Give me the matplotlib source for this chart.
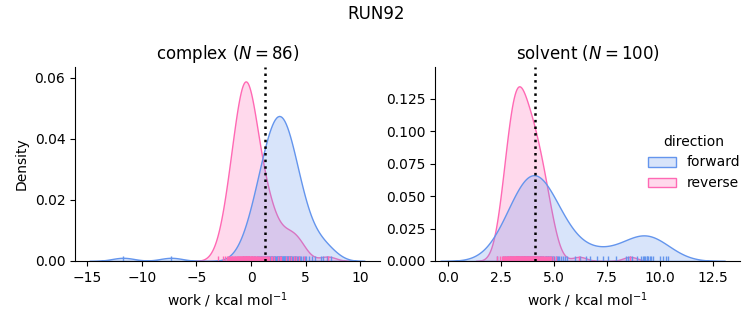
import matplotlib
matplotlib.use("Agg")
import matplotlib.pyplot as plt
import pandas as pd
import seaborn as sns

complex_forward = [
    -11.7, -7.3,
    -0.7, -0.5, -0.15, 0.1, 0.25, 0.38, 0.5, 0.62, 0.71, 0.79, 0.87, 0.95, 1.03, 1.1,
    1.18, 1.24, 1.3, 1.37, 1.43, 1.5, 1.56, 1.62, 1.67, 1.72, 1.78, 1.83, 1.89, 1.95,
    2.0, 2.06, 2.12, 2.18, 2.23, 2.28, 2.33, 2.38, 2.43, 2.48, 2.53, 2.58, 2.62,
    2.66, 2.7, 2.72, 2.74, 2.78, 2.83, 2.88, 2.93, 2.98, 3.03, 3.08, 3.13,
    3.18, 3.24, 3.3, 3.35, 3.41, 3.47, 3.52, 3.57, 3.62,
    3.69, 3.76, 3.83, 3.9, 3.97, 4.04, 4.11, 4.2, 4.3, 4.4, 4.5, 4.6,
    4.75, 4.9, 5.05, 5.3, 5.55, 5.8, 6.35, 6.6, 6.9, 7.3,
]
complex_reverse = [
    -3.0, -2.6, -2.35, -2.2, -2.1, -2.0,
    -1.92, -1.85, -1.77, -1.7, -1.63, -1.56, -1.49,
    -1.43, -1.38, -1.33, -1.28, -1.23, -1.18, -1.13, -1.08, -1.04, -1.0,
    -0.92, -0.88, -0.84, -0.8, -0.76, -0.72, -0.7, -0.68, -0.64, -0.6, -0.56, -0.52, -0.48,
    -0.44, -0.41, -0.38, -0.35, -0.31, -0.3, -0.27, -0.23, -0.19, -0.15, -0.1, -0.05, -0.01, 0.03,
    0.07, 0.12, 0.17, 0.22, 0.27, 0.32, 0.38, 0.44, 0.5,
    0.57, 0.65, 0.73, 0.81, 0.89, 0.97, 1.06, 1.16, 1.26, 1.35, 1.45,
    1.55, 1.68, 1.8, 1.93, 2.1, 2.45, 2.6, 2.78,
    3.2, 3.45, 3.65, 3.9, 4.15, 4.4, 4.8, 7.0,
]
solvent_forward = [
    2.3, 2.58, 2.69, 2.77, 2.84, 2.91, 2.98, 3.03, 3.08,
    3.19, 3.23, 3.28, 3.32, 3.36, 3.41, 3.43, 3.47, 3.5, 3.53, 3.57, 3.59,
    3.63, 3.65, 3.68, 3.71, 3.73, 3.76, 3.79, 3.81,
    3.85, 3.87, 3.89, 3.92, 3.94, 3.96, 3.99, 4.01, 4.03,
    4.07, 4.1, 4.13, 4.16, 4.19, 4.22, 4.25, 4.28,
    4.32, 4.35, 4.38, 4.41, 4.44, 4.47, 4.5,
    4.57, 4.6, 4.64, 4.67, 4.71, 4.74, 4.78,
    4.82, 4.86, 4.9, 4.94, 4.98, 5.08, 5.14, 5.2, 5.26,
    5.35, 5.43, 5.5, 5.62,
    6.0, 6.25, 6.5, 6.7, 7.04, 7.3, 7.55, 7.95,
    8.4, 8.5, 8.6, 8.7, 8.9, 9.1, 9.2, 9.25, 9.3, 9.38, 9.4, 9.45, 9.52, 9.6, 9.7,
    10.0, 10.15, 10.3, 10.4,
]
solvent_reverse = [
    2.32, 2.45, 2.52, 2.58, 2.62, 2.65, 2.69, 2.72, 2.75, 2.78,
    2.81, 2.83, 2.86, 2.88, 2.9, 2.92, 2.94, 2.96, 2.98,
    3.01, 3.03, 3.05, 3.07, 3.09, 3.11, 3.13, 3.15, 3.17, 3.18, 3.19,
    3.21, 3.22, 3.24, 3.25, 3.27, 3.29, 3.31, 3.32, 3.34, 3.36, 3.37, 3.39,
    3.41, 3.43, 3.45, 3.47, 3.49, 3.51, 3.53, 3.55, 3.57, 3.59,
    3.61, 3.63, 3.65, 3.68, 3.7, 3.72, 3.74, 3.77, 3.79,
    3.81, 3.83, 3.86, 3.88, 3.9, 3.93, 3.95, 3.97, 3.99,
    4.02, 4.04, 4.07, 4.09, 4.12, 4.14, 4.17, 4.19,
    4.22, 4.25, 4.28, 4.31, 4.34, 4.37, 4.39,
    4.42, 4.46, 4.5, 4.54, 4.58, 4.62, 4.67, 4.72, 4.77, 4.79,
    4.85, 4.94, 5.1, 6.2, 8.6,
]

phases = ["complex", "solvent"]
n_works = [86, 100]
free_energy = [1.28, 4.1]  # dotted lines
xlims = [(-16.1, 11.8), (-0.62, 13.8)]
ylims = [0.0636, 0.1497]

rows = []
for phase, fwd, rev in zip(phases, [complex_forward, solvent_forward], [complex_reverse, solvent_reverse]):
    rows += [(phase, "forward", w) for w in fwd]
    rows += [(phase, "reverse", w) for w in rev]
df = pd.DataFrame(rows, columns=["phase", "direction", "work"])

g = sns.displot(df, x="work", hue="direction", col="phase", kind="kde",
                fill=True, rug=True,
                palette={"forward": "cornflowerblue", "reverse": "hotpink"},
                facet_kws=dict(sharex=False, sharey=False), height=3, aspect=1)

fig = g.figure
fig.set_size_inches(7.53, 3.25)
fig.subplots_adjust(left=0.0996, right=0.983, bottom=0.197, top=0.794, wspace=0.18)

for ax, phase, n, dg, xl, ytop in zip(g.axes.flat, phases, n_works, free_energy, xlims, ylims):
    ax.axvline(dg, color="k", ls=":", lw=1.8)
    ax.set_title(f"{phase} ($N = {n}$)")
    ax.set_xlabel("work / kcal mol$^{-1}$")
    ax.set_xlim(*xl)
    ax.set_ylim(0, ytop)

fig.suptitle("RUN92", y=0.985)

fig.savefig("out.png", dpi=100)
